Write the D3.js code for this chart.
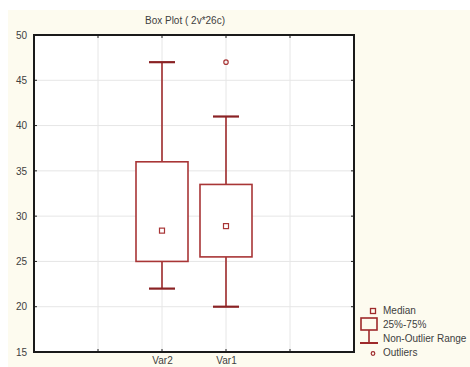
<!DOCTYPE html>
<html>
<head>
<meta charset="utf-8">
<script src="https://cdn.jsdelivr.net/npm/d3@7"></script>
<style>
  html, body { margin: 0; padding: 0; background: #ffffff; }
  svg { display: block; }
  text { font-family: "Liberation Sans", Arial, sans-serif; }
</style>
</head>
<body>
<script>
// Variables, in plotting order along the x axis
const categories = ["Var2", "Var1"];
const xSlots = [2, 3];
const medians = [28.4, 28.9];
const q1 = [25, 25.5];
const q3 = [36, 33.5];
const whiskerLow = [22, 20];
const whiskerHigh = [47, 41];
const outliers = [[], [47]];
const yTicks = [15, 20, 25, 30, 35, 40, 45, 50];
const xTicks = [1, 2, 3, 4];
const legendLabels = ["Median", "25%-75%", "Non-Outlier Range", "Outliers"];

const W = 470, H = 367;
const plot = { left: 34, top: 35, right: 354, bottom: 352 };
const red = "#9e2a2b";
const textColor = "#404040";

const svg = d3.select("body").append("svg").attr("width", W).attr("height", H);

// cream panel behind everything
svg.append("rect").attr("x", 8).attr("y", 10).attr("width", W - 8).attr("height", H - 10)
  .attr("fill", "#fdfbef");

const x = d3.scaleLinear().domain([0, 5]).range([plot.left, plot.right]);
const y = d3.scaleLinear().domain([15, 50]).range([plot.bottom, plot.top]);

// plot area
svg.append("rect").attr("x", plot.left).attr("y", plot.top)
  .attr("width", plot.right - plot.left).attr("height", plot.bottom - plot.top)
  .attr("fill", "#ffffff");

// grid
svg.append("g").selectAll("line").data(yTicks.slice(1, -1)).join("line")
  .attr("x1", plot.left).attr("x2", plot.right)
  .attr("y1", d => y(d)).attr("y2", d => y(d))
  .attr("stroke", "#e6e6e6").attr("stroke-width", 1);
svg.append("g").selectAll("line").data(xTicks).join("line")
  .attr("x1", d => x(d)).attr("x2", d => x(d))
  .attr("y1", plot.top).attr("y2", plot.bottom)
  .attr("stroke", "#e6e6e6").attr("stroke-width", 1);

// axes
const yAxis = d3.axisLeft(y).tickValues(yTicks).tickSize(0).tickPadding(7);
const gy = svg.append("g").attr("transform", `translate(${plot.left},0)`).call(yAxis);
gy.select(".domain").remove();
gy.selectAll("text").attr("font-size", 10).attr("fill", textColor);

const xAxis = d3.axisBottom(x).tickValues(xSlots)
  .tickFormat((d, i) => categories[i]).tickSize(0).tickPadding(5);
const gx = svg.append("g").attr("transform", `translate(0,${plot.bottom})`).call(xAxis);
gx.select(".domain").remove();
gx.selectAll("text").attr("font-size", 10).attr("fill", textColor);

// small tick marks on the frame
svg.append("g").selectAll("line").data(xTicks).join("line")
  .attr("x1", d => x(d)).attr("x2", d => x(d))
  .attr("y1", plot.bottom - 3).attr("y2", plot.bottom)
  .attr("stroke", "#222").attr("stroke-width", 1);
svg.append("g").selectAll("line").data(xTicks).join("line")
  .attr("x1", d => x(d)).attr("x2", d => x(d))
  .attr("y1", plot.top).attr("y2", plot.top + 3)
  .attr("stroke", "#222").attr("stroke-width", 1);
svg.append("g").selectAll("line").data(yTicks.slice(1, -1)).join("line")
  .attr("x1", plot.left).attr("x2", plot.left + 3)
  .attr("y1", d => y(d)).attr("y2", d => y(d))
  .attr("stroke", "#222").attr("stroke-width", 1);
svg.append("g").selectAll("line").data(yTicks.slice(1, -1)).join("line")
  .attr("x1", plot.right - 3).attr("x2", plot.right)
  .attr("y1", d => y(d)).attr("y2", d => y(d))
  .attr("stroke", "#222").attr("stroke-width", 1);

// frame
svg.append("rect").attr("x", plot.left).attr("y", plot.top)
  .attr("width", plot.right - plot.left).attr("height", plot.bottom - plot.top)
  .attr("fill", "none").attr("stroke", "#1a1a1a").attr("stroke-width", 2);

// title
svg.append("text").attr("x", 185).attr("y", 24).attr("text-anchor", "middle")
  .attr("font-size", 10).attr("fill", textColor).text("Box Plot ( 2v*26c)");

// boxes
const boxW = 52, capW = 26;
const g = svg.append("g");
categories.forEach((c, i) => {
  const cx = x(xSlots[i]);
  g.append("line").attr("x1", cx).attr("x2", cx)
    .attr("y1", y(whiskerHigh[i])).attr("y2", y(q3[i]))
    .attr("stroke", red).attr("stroke-width", 1.6);
  g.append("line").attr("x1", cx).attr("x2", cx)
    .attr("y1", y(q1[i])).attr("y2", y(whiskerLow[i]))
    .attr("stroke", red).attr("stroke-width", 1.6);
  [whiskerHigh[i], whiskerLow[i]].forEach(v => {
    g.append("line").attr("x1", cx - capW / 2).attr("x2", cx + capW / 2)
      .attr("y1", y(v)).attr("y2", y(v))
      .attr("stroke", "#8a2224").attr("stroke-width", 2.2);
  });
  g.append("rect").attr("x", cx - boxW / 2).attr("y", y(q3[i]))
    .attr("width", boxW).attr("height", y(q1[i]) - y(q3[i]))
    .attr("fill", "#ffffff").attr("stroke", "#a83536").attr("stroke-width", 1.6);
  g.append("rect").attr("x", cx - 2.5).attr("y", y(medians[i]) - 2.5)
    .attr("width", 5).attr("height", 5)
    .attr("fill", "none").attr("stroke", "#a83536").attr("stroke-width", 1.2);
  outliers[i].forEach(v => {
    g.append("circle").attr("cx", cx).attr("cy", y(v)).attr("r", 2.2)
      .attr("fill", "none").attr("stroke", "#a83536").attr("stroke-width", 1.2);
  });
});

// legend
const lg = svg.append("g");
lg.append("rect").attr("x", 370.5).attr("y", 308.5).attr("width", 5).attr("height", 5)
  .attr("fill", "none").attr("stroke", red).attr("stroke-width", 1.3);
lg.append("rect").attr("x", 361).attr("y", 318).attr("width", 16).attr("height", 12)
  .attr("fill", "none").attr("stroke", red).attr("stroke-width", 1.6);
lg.append("line").attr("x1", 369).attr("x2", 369).attr("y1", 330).attr("y2", 343)
  .attr("stroke", red).attr("stroke-width", 1.6);
lg.append("line").attr("x1", 360).attr("x2", 378).attr("y1", 343).attr("y2", 343)
  .attr("stroke", red).attr("stroke-width", 2);
lg.append("circle").attr("cx", 373).attr("cy", 353.5).attr("r", 1.8)
  .attr("fill", "none").attr("stroke", red).attr("stroke-width", 1.2);
const ly = [314, 328, 342, 356];
lg.selectAll("text").data(legendLabels).join("text")
  .attr("x", 383).attr("y", (d, i) => ly[i])
  .attr("font-size", 10).attr("fill", textColor).text(d => d);
</script>
</body>
</html>
